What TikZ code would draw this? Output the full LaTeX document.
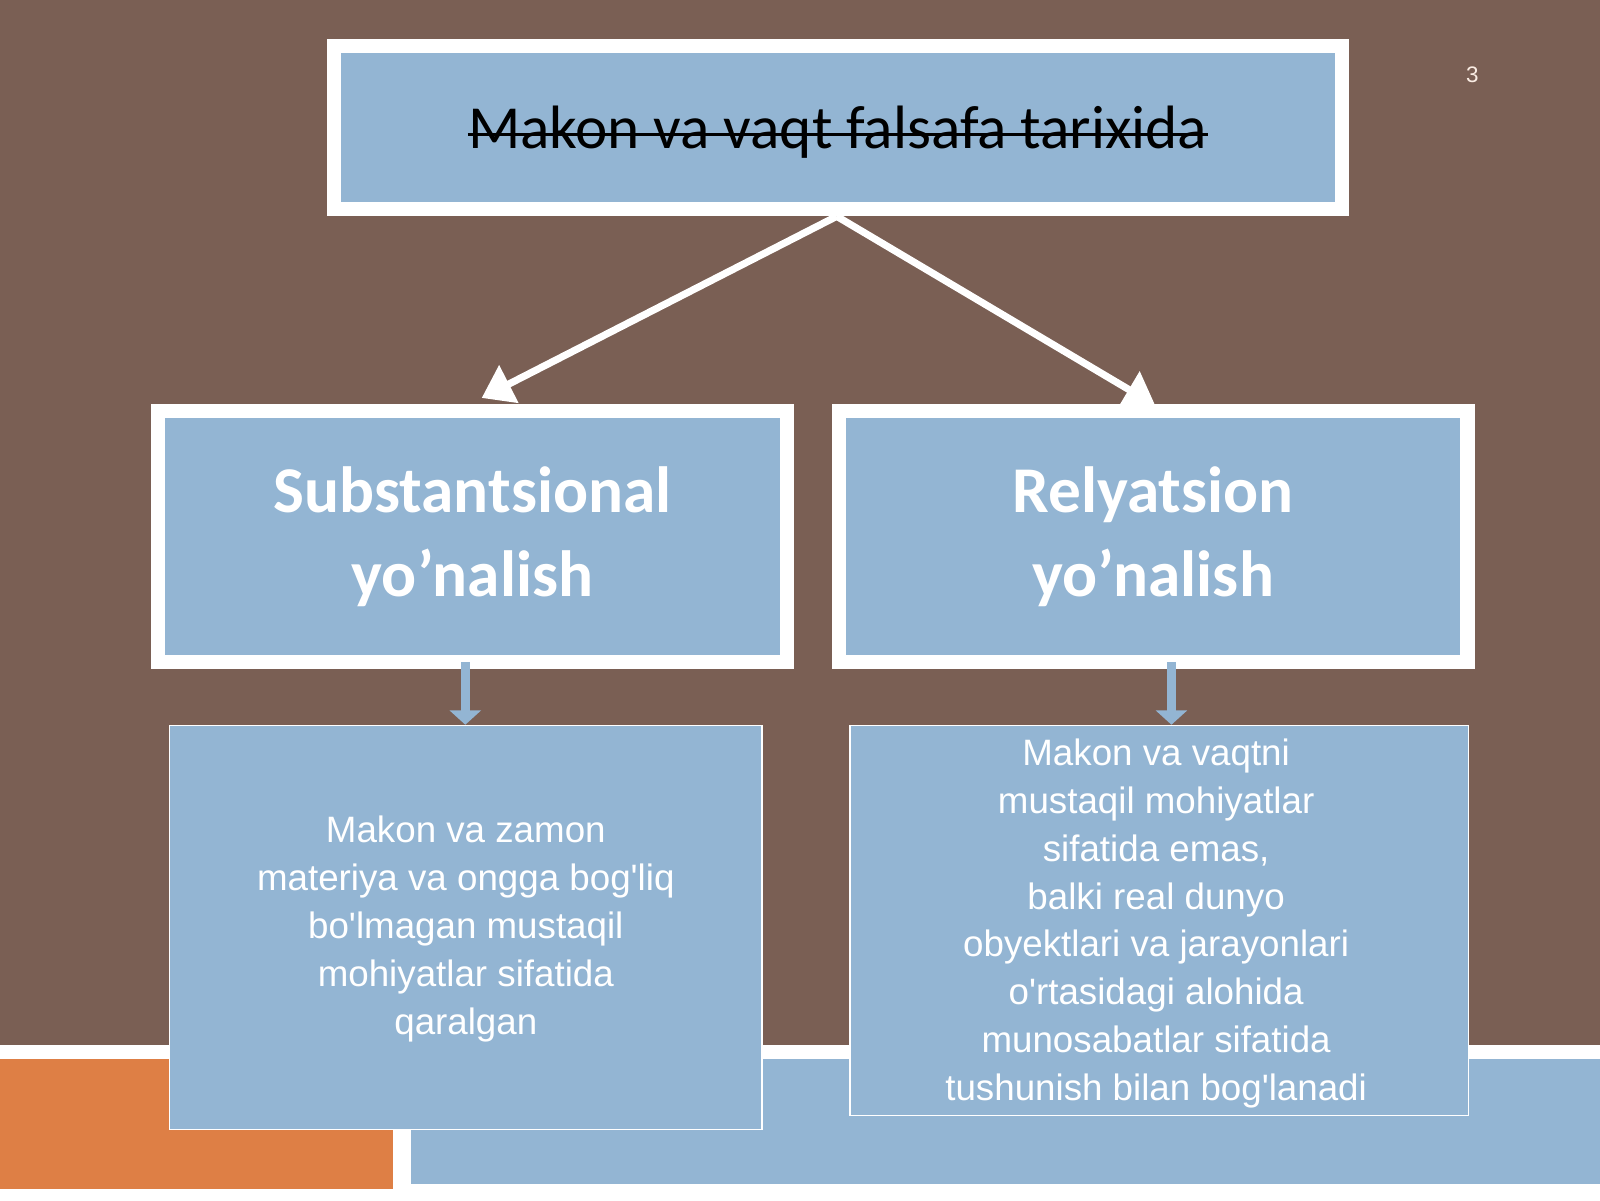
\documentclass[tikz,border=0pt]{standalone}
\usepackage{fontspec}
\setmainfont{Carlito}
\newfontfamily\arialf{Liberation Sans}
\usetikzlibrary{arrows.meta}
\definecolor{bg}{HTML}{7A5F54}
\definecolor{bl}{HTML}{93B5D3}
\definecolor{orng}{HTML}{DE7F45}
\begin{document}
\begin{tikzpicture}[x=1pt,y=-1pt,
  frame/.style={draw=white,line width=14pt,fill=bl},
  thin/.style={draw=white,line width=1.5pt,fill=bl},
  bigarr/.style={draw=white,line width=7pt,-{Triangle[length=30pt,width=40pt]}},
  blockarr/.style={draw=bl,line width=9pt,-{Triangle[length=14pt,width=30pt]}},
  midtxt/.style={align=center,text=white,font=\fontsize{64}{82}\selectfont\bfseries},
  lowtxt/.style={align=center,text=white,font=\arialf\fontsize{36}{47}\selectfont}]
\useasboundingbox (0,0) rectangle (1568,1176);
\fill[bg] (0,0) rectangle (1568,1176);
\fill[white] (0,1024) rectangle (1568,1176);
\fill[orng] (0,1038) rectangle (385,1165);
\fill[bl] (403,1038) rectangle (1568,1160);
\node[frame,minimum width=988pt,minimum height=160pt,inner sep=0pt] (top) at (821,125) {};
\node[font=\fontsize{60}{64}\selectfont,inner sep=0pt] (title) at (821,130)
  {Makon va vaqt falsafa tarixida};
\draw[line width=3pt] ([yshift=24pt]title.south west) -- ([yshift=24pt]title.south east);
\node[frame,minimum width=616pt,minimum height=246pt,midtxt] (l) at (463,526)
  {Substantsional\\yo'nalish};
\node[frame,minimum width=616pt,minimum height=246pt,midtxt] (r) at (1130,526)
  {Relyatsion\\yo'nalish};
\coordinate (apex) at (820,212);
\coordinate (la) at (472,390);
\coordinate (ra) at (1132,397);
\draw[bigarr] (apex) -- (la);
\draw[bigarr] (apex) -- (ra);
\node[thin,minimum width=581pt,minimum height=396pt,lowtxt] (lb) at (456.5,909) {};
\node[lowtxt] (lbt) at (456.5,910) {Makon va zamon\\materiya va ongga bog'liq\\bo'lmagan mustaqil\\mohiyatlar sifatida\\qaralgan};
\node[thin,minimum width=606pt,minimum height=382pt,lowtxt] (rb) at (1136,902) {};
\node[lowtxt] (rbt) at (1133,905) {Makon va vaqtni\\mustaqil mohiyatlar\\sifatida emas,\\balki real dunyo\\obyektlari va jarayonlari\\o'rtasidagi alohida\\munosabatlar sifatida\\tushunish bilan bog'lanadi};
\draw[blockarr] (456,649) -- (lb.north-|456,0);
\draw[blockarr] (1148,649) -- (rb.north-|1148,0);
\node[text=white!85!orng,font=\arialf\fontsize{22}{24}\selectfont] (pg) at (1443,73) {3};
\end{tikzpicture}
\end{document}
